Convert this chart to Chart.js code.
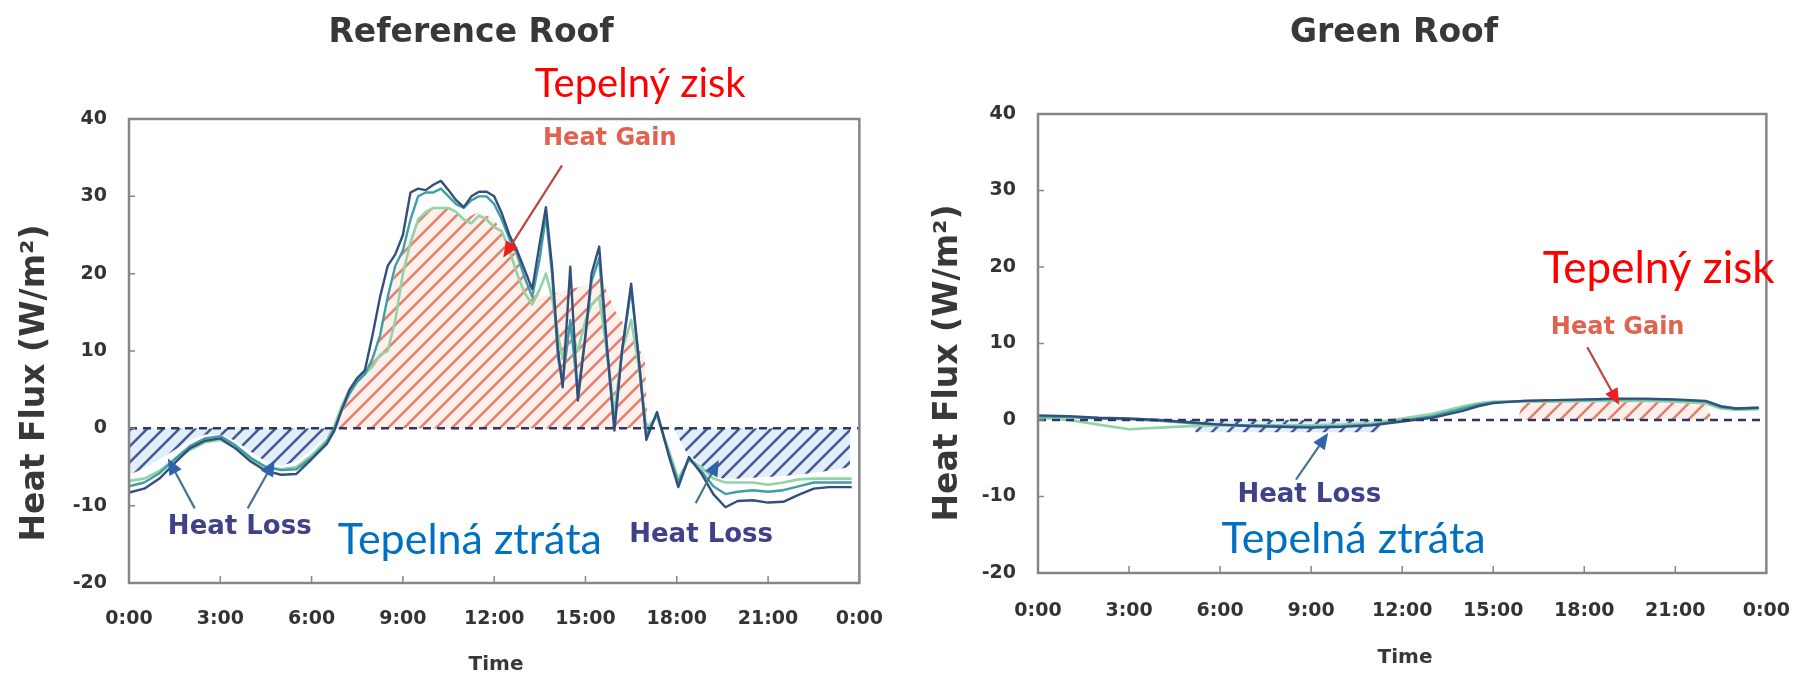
<!DOCTYPE html>
<html>
<head>
<meta charset="utf-8">
<title>Heat flux - reference roof vs green roof</title>
<script src="https://cdn.jsdelivr.net/npm/chart.js@4.4.1/dist/chart.umd.min.js"></script>
<style>
  html, body { margin: 0; padding: 0; background: #fff; }
  #wrap { position: relative; width: 1817px; height: 677px; overflow: hidden; }
  .panel { position: absolute; top: 0; height: 677px; }
  #left { left: 0; width: 908px; }
  #right { left: 908px; width: 909px; }
</style>
</head>
<body>
<div id="wrap">
  <div class="panel" id="left"><canvas id="refChart"></canvas></div>
  <div class="panel" id="right"><canvas id="greenChart"></canvas></div>
</div>
<script>
// axis ticks
const timeLabels = ["0:00", "3:00", "6:00", "9:00", "12:00", "15:00", "18:00", "21:00", "0:00"];
const timeTickHours = [0, 3, 6, 9, 12, 15, 18, 21, 24];
const fluxTicks = [-20, -10, 0, 10, 20, 30, 40];

// zero reference line
const zeroHours = [0, 24];
const zeroFlux = [0, 0];

// reference roof, three sensors (W/m2)
const refHours = [0, 0.5, 1, 1.5, 2, 2.5, 3, 3.5, 4, 4.5,
  5, 5.5, 6, 6.5, 6.75, 7, 7.25, 7.5, 7.75, 8,
  8.25, 8.5, 8.75, 9, 9.25, 9.5, 9.75, 10, 10.25, 10.5,
  10.75, 11, 11.25, 11.5, 11.75, 12, 12.25, 12.5, 12.75, 13,
  13.25, 13.5, 13.7, 13.9, 14.1, 14.25, 14.5, 14.75, 15, 15.2,
  15.45, 15.7, 15.95, 16.2, 16.5, 16.75, 17, 17.35, 17.75, 18.05,
  18.4, 18.8, 19.2, 19.6, 20, 20.5, 21, 21.5, 22, 22.5,
  23, 23.75];
const refDark = [-8.3, -7.8, -6.5, -4.5, -2.6, -1.6, -1.3, -2.6, -4.3, -5.5,
  -6.0, -5.9, -4.0, -2.0, -0.3, 2.5, 5, 6.5, 7.5, 12,
  17, 21, 22.5, 25, 30.5, 31, 30.8, 31.5, 32, 30.8,
  29.5, 28.6, 30, 30.6, 30.6, 30, 27.8, 25, 23, 20.5,
  18, 24, 28.6, 21, 10, 5.3, 20.9, 3.6, 12, 20,
  23.5, 11, -0.3, 10, 18.7, 9, -1.5, 2.1, -3.7, -7.6,
  -3.7, -5.8, -8.5, -10.2, -9.4, -9.3, -9.6, -9.5, -8.6, -7.8,
  -7.6, -7.6];
const refTeal = [-7.5, -7.0, -5.8, -4.0, -2.3, -1.3, -1.0, -2.2, -3.8, -5.0,
  -5.4, -5.3, -3.8, -1.8, 0, 2.5, 4.5, 6, 7, 9,
  12, 17, 21, 23, 27, 30, 30.5, 30.5, 31, 30,
  29, 28.5, 29.5, 30, 30, 29, 27, 24.5, 22.5, 19.5,
  17, 22, 27.5, 20, 9, 6, 14, 4.5, 12, 19,
  22, 10, 0.5, 10, 18, 9, -1, 2, -3.5, -7,
  -4, -5.5, -7.5, -8.5, -8.2, -8, -8.2, -8, -7.5, -7,
  -7, -7];
const refGreen = [-6.8, -6.5, -5.5, -4.0, -2.8, -1.8, -1.5, -2.5, -4.0, -5.0,
  -5.3, -5.0, -3.5, -1.5, 0.3, 3, 5, 6.5, 7, 8,
  9.5, 10, 14, 20, 24, 27, 28, 28.5, 28.5, 28.5,
  28, 27, 26.5, 27.5, 27, 26, 25.5, 23, 20, 17.5,
  16, 18, 20, 17, 12, 9, 13, 10, 14, 16,
  17, 10, 2, 10, 14, 8, 0, 1.5, -3, -6.5,
  -4, -5, -6.5, -7, -7, -7, -7.3, -7, -6.6, -6.5,
  -6.5, -6.5];

// hatched gain / loss region, reference roof
const refHatchHours = [0, 0.5, 1, 1.5, 2, 2.5, 3, 3.5, 4, 4.5,
  5, 5.5, 6, 6.5, 6.8, 7.2, 7.6, 8, 8.5, 9,
  9.5, 10, 10.5, 11, 11.5, 12, 12.5, 13, 13.5, 14,
  14.5, 15, 15.5, 16, 16.5, 16.95, 17.05, 17.9, 18.3, 19,
  19.5, 20, 21, 22, 23, 23.7];
const refHatchFlux = [-6, -5.2, -4, -2.8, -1.5, -0.8, -0.8, -1.6, -3, -4.3,
  -4.8, -4.3, -2.8, -1, 0, 4, 7, 9, 17, 23,
  27, 28.5, 28.5, 27, 28, 27, 24, 20, 17, 17.5,
  18, 18.5, 19.5, 15, 12, 9, 0, 0, -3, -5.5,
  -6.5, -6.5, -6.3, -6, -5.5, -5];

// green roof, three sensors (W/m2)
const greenHours = [0, 1, 2, 3, 4, 5, 6, 7, 8, 9, 10, 11, 12, 13, 14, 14.5,
  15, 16, 17, 18, 19, 20, 21, 22, 22.5, 23, 23.75];
const greenDark = [0.6, 0.5, 0.3, 0.2, 0, -0.3, -0.6, -0.8, -0.9, -1.0, -0.9, -0.7, -0.2, 0.3, 1.2, 1.8,
  2.2, 2.5, 2.6, 2.7, 2.8, 2.8, 2.7, 2.5, 1.8, 1.5, 1.6];
const greenTeal = [0.5, 0.4, 0.2, 0.1, -0.1, -0.4, -0.6, -0.7, -0.8, -0.9, -0.8, -0.6, -0.1, 0.5, 1.5, 2.0,
  2.3, 2.5, 2.6, 2.6, 2.7, 2.7, 2.6, 2.4, 1.7, 1.5, 1.6];
const greenGreen = [0.3, 0, -0.6, -1.2, -1.0, -0.8, -0.7, -0.7, -0.7, -0.7, -0.6, -0.4, 0.2, 0.8, 1.8, 2.2,
  2.4, 2.4, 2.4, 2.5, 2.5, 2.5, 2.4, 2.2, 1.5, 1.3, 1.4];

// hatched gain / loss region, green roof
const greenHatchHours = [5, 5.2, 11.2, 11.4, 15.8, 16, 22, 22.2];
const greenHatchFlux = [0, -1.6, -1.6, 0, 0, 2.6, 2.6, 0];

const BOLD = "'DejaVu Sans', sans-serif";
const CZ = "Lato, 'Liberation Sans', sans-serif";

const toPoints = (xs, ys) => xs.map((x, i) => ({ x: x, y: ys[i] }));

function hatch(stripe, tint) {
    const s = 16;
    const c = document.createElement("canvas");
    c.width = s;
    c.height = s;
    const g = c.getContext("2d");
    g.fillStyle = tint;
    g.fillRect(0, 0, s, s);
    g.strokeStyle = stripe;
    g.lineWidth = 2.6;
    g.beginPath();
    g.moveTo(0, s); g.lineTo(s, 0);
    g.moveTo(-s / 2, s / 2); g.lineTo(s / 2, -s / 2);
    g.moveTo(s / 2, s * 1.5); g.lineTo(s * 1.5, s / 2);
    g.stroke();
    return g.createPattern(c, "repeat");
}

const gainHatch = hatch("#e3806f", "rgba(252, 226, 218, 0.55)");
const lossHatch = hatch("#4b5796", "rgba(205, 228, 246, 0.6)");

function drawArrow(ctx, x1, y1, x2, y2, line, head) {
    const ang = Math.atan2(y2 - y1, x2 - x1);
    const len = 16, half = 7;
    ctx.strokeStyle = line;
    ctx.lineWidth = 2.2;
    ctx.beginPath();
    ctx.moveTo(x1, y1);
    ctx.lineTo(x2 - Math.cos(ang) * len * 0.6, y2 - Math.sin(ang) * len * 0.6);
    ctx.stroke();
    ctx.fillStyle = head;
    ctx.beginPath();
    ctx.moveTo(x2, y2);
    ctx.lineTo(x2 - len * Math.cos(ang) + half * Math.sin(ang), y2 - len * Math.sin(ang) - half * Math.cos(ang));
    ctx.lineTo(x2 - len * Math.cos(ang) - half * Math.sin(ang), y2 - len * Math.sin(ang) + half * Math.cos(ang));
    ctx.closePath();
    ctx.fill();
}

// frame, inward ticks, titles and the annotations
function makeNotes(notes) {
    return {
        id: "notes",
        afterDraw(chart) {
            const { ctx, chartArea: area, scales } = chart;
            const px = (h) => scales.x.getPixelForValue(h);
            const py = (v) => scales.y.getPixelForValue(v);
            ctx.save();

            ctx.strokeStyle = "#868686";
            ctx.lineWidth = 2.5;
            ctx.strokeRect(area.left, area.top, area.width, area.height);
            ctx.lineWidth = 1.5;
            ctx.beginPath();
            timeTickHours.slice(1, -1).forEach((h) => {
                ctx.moveTo(px(h), area.bottom);
                ctx.lineTo(px(h), area.bottom - 7);
            });
            fluxTicks.slice(1, -1).forEach((v) => {
                ctx.moveTo(area.left, py(v));
                ctx.lineTo(area.left + 6, py(v));
            });
            ctx.stroke();

            notes.arrows.forEach((a) => {
                drawArrow(ctx, px(a.from[0]), py(a.from[1]), px(a.to[0]), py(a.to[1]), a.line, a.head);
            });

            ctx.textAlign = "center";
            notes.labels.forEach((l) => {
                ctx.font = l.font;
                ctx.fillStyle = l.color;
                ctx.textBaseline = l.baseline;
                ctx.fillText(l.text, px(l.at[0]), py(l.at[1]));
            });

            ctx.fillStyle = "#383838";
            ctx.textBaseline = "alphabetic";
            ctx.font = "bold 33px " + BOLD;
            ctx.fillText(notes.title.text, notes.title.x, notes.title.y);

            ctx.textBaseline = "middle";
            ctx.font = "bold 20px " + BOLD;
            ctx.fillText("Time", notes.xTitle.x, notes.xTitle.y);

            ctx.translate(notes.yTitle.x, notes.yTitle.y);
            ctx.rotate(-Math.PI / 2);
            ctx.font = "bold 33px " + BOLD;
            ctx.fillText("Heat Flux (W/m²)", 0, 0);

            ctx.restore();
        },
    };
}

function buildChart(canvasId, cfg) {
    const tickFont = { family: BOLD, weight: "bold", size: 19 };
    return new Chart(document.getElementById(canvasId), {
        type: "line",
        data: {
            datasets: [
                {
                    label: "zero",
                    data: toPoints(zeroHours, zeroFlux),
                    borderColor: "#2e3766",
                    borderWidth: 2.5,
                    borderDash: [8, 6],
                    pointRadius: 0,
                    fill: false,
                },
                {
                    label: "sensor 1",
                    data: toPoints(cfg.hours, cfg.dark),
                    borderColor: "#324f7e",
                    borderWidth: 2.4,
                    borderJoinStyle: "round",
                    pointRadius: 0,
                    fill: false,
                },
                {
                    label: "sensor 2",
                    data: toPoints(cfg.hours, cfg.teal),
                    borderColor: "#3f9ea3",
                    borderWidth: 2.4,
                    borderJoinStyle: "round",
                    pointRadius: 0,
                    fill: false,
                },
                {
                    label: "sensor 3",
                    data: toPoints(cfg.hours, cfg.green),
                    borderColor: "#93d3a6",
                    borderWidth: 2.6,
                    borderJoinStyle: "round",
                    pointRadius: 0,
                    fill: false,
                },
                {
                    label: "gain / loss",
                    data: toPoints(cfg.hatchHours, cfg.hatchFlux),
                    borderColor: "rgba(0,0,0,0)",
                    borderWidth: 0,
                    pointRadius: 0,
                    fill: { target: "origin", above: gainHatch, below: lossHatch },
                },
            ],
        },
        options: {
            responsive: true,
            maintainAspectRatio: false,
            animation: false,
            events: [],
            layout: { padding: cfg.padding },
            plugins: {
                legend: { display: false },
                tooltip: { enabled: false },
            },
            scales: {
                x: {
                    type: "linear",
                    min: 0,
                    max: 24,
                    grid: { display: false, drawTicks: false },
                    border: { display: false },
                    afterBuildTicks: (s) => {
                        s.ticks = timeTickHours.map((h) => ({ value: h }));
                    },
                    afterFit: (s) => {
                        s.height = cfg.xAxisHeight;
                    },
                    ticks: {
                        autoSkip: false,
                        maxRotation: 0,
                        padding: cfg.xTickPad,
                        color: "#333",
                        font: tickFont,
                        callback: (v, i) => timeLabels[i],
                    },
                },
                y: {
                    min: -20,
                    max: 40,
                    grid: { display: false, drawTicks: false },
                    border: { display: false },
                    afterBuildTicks: (s) => {
                        s.ticks = fluxTicks.map((v) => ({ value: v }));
                    },
                    afterFit: (s) => {
                        s.width = cfg.yAxisWidth;
                    },
                    ticks: {
                        padding: 22,
                        color: "#333",
                        font: tickFont,
                        callback: (v) => String(v),
                    },
                },
            },
        },
        plugins: [makeNotes(cfg.notes)],
    });
}

buildChart("refChart", {
    hours: refHours,
    dark: refDark,
    teal: refTeal,
    green: refGreen,
    hatchHours: refHatchHours,
    hatchFlux: refHatchFlux,
    padding: { top: 119, right: 45, left: 0, bottom: 0 },
    yAxisWidth: 129,
    xAxisHeight: 94,
    xTickPad: 25,
    notes: {
        title: { text: "Reference Roof", x: 471, y: 42 },
        xTitle: { x: 496, y: 665 },
        yTitle: { x: 35, y: 383 },
        arrows: [
            { from: [14.23, 34.0], to: [12.3, 22.1], line: "#b9463f", head: "#ee2020" },
            { from: [2.16, -10.35], to: [1.28, -3.9], line: "#4a7390", head: "#2f63b0" },
            { from: [3.9, -10.35], to: [4.79, -4.1], line: "#4a7390", head: "#2f63b0" },
            { from: [18.62, -9.7], to: [19.38, -4.1], line: "#4a7390", head: "#2f63b0" },
        ],
        labels: [
            { text: "Heat Gain", at: [15.8, 37.4], font: "bold 24px " + BOLD, color: "#e0624f", baseline: "middle" },
            { text: "Heat Loss", at: [3.64, -12.8], font: "bold 26px " + BOLD, color: "#41418a", baseline: "middle" },
            { text: "Heat Loss", at: [18.8, -13.8], font: "bold 26px " + BOLD, color: "#41418a", baseline: "middle" },
            { text: "Tepelný zisk", at: [16.8, 42.8], font: "40px " + CZ, color: "#ff0000", baseline: "alphabetic" },
            { text: "Tepelná ztráta", at: [11.2, -16.3], font: "43px " + CZ, color: "#0070c0", baseline: "alphabetic" },
        ],
    },
});

buildChart("greenChart", {
    hours: greenHours,
    dark: greenDark,
    teal: greenTeal,
    green: greenGreen,
    hatchHours: greenHatchHours,
    hatchFlux: greenHatchFlux,
    padding: { top: 114, right: 41, left: 0, bottom: 0 },
    yAxisWidth: 130,
    xAxisHeight: 104,
    xTickPad: 27,
    notes: {
        title: { text: "Green Roof", x: 486, y: 42 },
        xTitle: { x: 497, y: 658 },
        yTitle: { x: 40, y: 363 },
        arrows: [
            { from: [18.1, 9.5], to: [19.15, 2.0], line: "#b9463f", head: "#ee2020" },
            { from: [8.5, -7.8], to: [9.56, -1.7], line: "#4a7390", head: "#2f63b0" },
        ],
        labels: [
            { text: "Heat Gain", at: [19.1, 12.0], font: "bold 24px " + BOLD, color: "#e0624f", baseline: "middle" },
            { text: "Heat Loss", at: [8.94, -9.8], font: "bold 26px " + BOLD, color: "#41418a", baseline: "middle" },
            { text: "Tepelný zisk", at: [20.45, 17.9], font: "44px " + CZ, color: "#ff0000", baseline: "alphabetic" },
            { text: "Tepelná ztráta", at: [10.4, -17.4], font: "43px " + CZ, color: "#0070c0", baseline: "alphabetic" },
        ],
    },
});
</script>
</body>
</html>
